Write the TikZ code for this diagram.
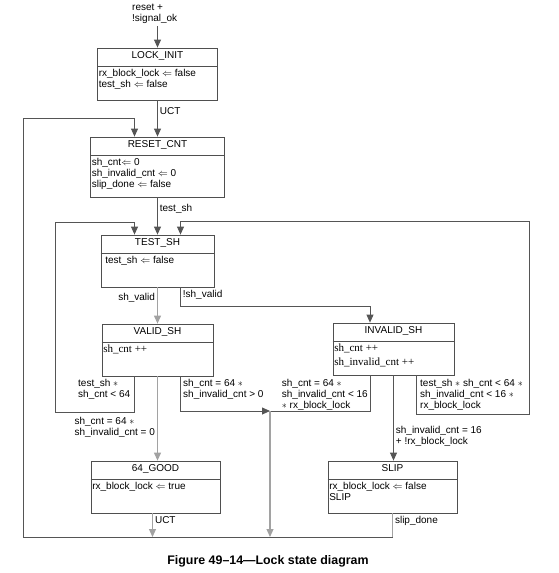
\documentclass[tikz,border=0pt]{standalone}
\usepackage{amsmath,amssymb}
\usepackage{fontspec}
\setmainfont{Liberation Sans}
\newfontfamily\timesfont{Liberation Serif}
\usetikzlibrary{arrows.meta}
\definecolor{boxgray}{HTML}{4F4F4F}
\definecolor{wiredark}{HTML}{555555}
\definecolor{wirelight}{HTML}{A2A2A2}

\begin{document}
\begin{tikzpicture}[x=1pt, y=-1pt, >={Triangle[length=8pt,width=7pt]},
	every node/.style={font=\fontsize{10}{11}\selectfont},
	state/.style={draw=boxgray, line width=0.8pt, minimum height=52pt, inner sep=0pt},
	head/.style={anchor=base, inner sep=0pt},
	body/.style={anchor=north west, align=left, inner sep=1.5pt},
	lbl/.style={align=left, inner sep=2pt, font=\fontsize{10}{11}\selectfont},
	link/.style={draw=wiredark, line width=0.8pt},
	faint/.style={draw=wirelight, line width=1.1pt}]
	\useasboundingbox (0,0) rectangle (559,573);
	\node[state, minimum width=120pt] (lockinit) at (157.5,74) {};
	\node[state, minimum width=134pt, minimum height=60pt] (resetcnt) at (157.5,167) {};
	\node[state, minimum width=113pt] (testsh) at (157.5,261) {};
	\node[state, minimum width=111pt] (validsh) at (157.5,350) {};
	\node[state, minimum width=121pt] (invalidsh) at (393.5,349) {};
	\node[state, minimum width=129pt] (good) at (155.5,487) {};
	\node[state, minimum width=129pt] (slip) at (392.5,487) {};
	\foreach \s in {lockinit,resetcnt,testsh,validsh,invalidsh,good,slip} {
		\draw[boxgray, line width=0.8pt] ([yshift=-19pt]\s.north west) -- ([yshift=-19pt]\s.north east);
	}
	\node[head] (lockinit-t) at ([yshift=-11pt]lockinit.north) {LOCK\_INIT};
	\node[head] (resetcnt-t) at ([yshift=-11pt]resetcnt.north) {RESET\_CNT};
	\node[head] (testsh-t) at ([yshift=-11pt]testsh.north) {TEST\_SH};
	\node[head] (validsh-t) at ([yshift=-11pt]validsh.north) {VALID\_SH};
	\node[head] (invalidsh-t) at ([yshift=-11pt]invalidsh.north) {INVALID\_SH};
	\node[head] (good-t) at ([yshift=-11pt]good.north) {64\_GOOD};
	\node[head] (slip-t) at ([yshift=-11pt]slip.north) {SLIP};
	\node[body] (lockinit-b) at ([yshift=-19.5pt]lockinit.north west) {rx\_block\_lock $\Leftarrow$ false\\test\_sh $\Leftarrow$ false};
	\node[body] (resetcnt-b) at ([yshift=-19.5pt]resetcnt.north west) {sh\_cnt$\Leftarrow$ 0\\sh\_invalid\_cnt $\Leftarrow$ 0\\slip\_done $\Leftarrow$ false};
	\node[body] (testsh-b) at ([xshift=3pt, yshift=-19.5pt]testsh.north west) {test\_sh $\Leftarrow$ false};
	\node[body, font=\timesfont\fontsize{11}{14}\selectfont] (validsh-b) at ([yshift=-20pt]validsh.north west) {sh\_cnt ++};
	\node[body, font=\timesfont\fontsize{11}{14}\selectfont] (invalidsh-b) at ([yshift=-20pt]invalidsh.north west) {sh\_cnt ++\\sh\_invalid\_cnt ++};
	\node[body] (good-b) at ([yshift=-19.5pt]good.north west) {rx\_block\_lock $\Leftarrow$ true};
	\node[body] (slip-b) at ([yshift=-19.5pt]slip.north west) {rx\_block\_lock $\Leftarrow$ false\\SLIP};

	\node[lbl, anchor=south west] (entry) at (130,26) {reset +\\!signal\_ok};
	\draw[link, ->] (entry.south -| lockinit.north) -- (lockinit.north);
	\draw[link, ->] (lockinit.south) -- (lockinit.south |- resetcnt.north) node[lbl, pos=.3, right] (uct-a) {UCT};
	\coordinate (busw) at (23,537);
	\coordinate (outerloop) at (23,118);
	\draw[link, ->] (busw) -- (outerloop) -| ([xshift=-23pt]resetcnt.north);
	\draw[link, ->] (resetcnt.south) -- (resetcnt.south |- testsh.north) node[lbl, pos=.3, right] (testsh-l) {test\_sh};
	\coordinate (leftloop) at (55,222);
	\draw[link, ->] ([xshift=-23pt]validsh.south) -- ++(0,36) -| (leftloop) -| ([xshift=-23pt]testsh.north);
	\node[lbl, anchor=north west] (leftloop-l) at (76,377) {test\_sh $*$\\sh\_cnt < 64};
	\coordinate (rightloop) at (529,221);
	\draw[link, ->] ([xshift=23pt]invalidsh.south) -- ++(0,39) -| (rightloop) -| ([xshift=23pt]testsh.north);
	\node[lbl, anchor=north west] (rightloop-l) at (418,377) {test\_sh $*$ sh\_cnt < 64 $*$\\sh\_invalid\_cnt < 16 $*$\\rx\_block\_lock};
	\draw[faint, ->] (testsh.south) -- (validsh.north) node[lbl, pos=.3, left] (valid-l) {sh\_valid};
	\draw[link, ->] ([xshift=23pt]testsh.south) -- ++(0,19) node[lbl, pos=.4, right] (invalid-l) {!sh\_valid} -| ([xshift=-23.5pt]invalidsh.north);
	\draw[faint, ->] (validsh.south) -- (validsh.south |- good.north) node[lbl, pos=.6, left] (good-l) {sh\_cnt = 64 $*$\\sh\_invalid\_cnt = 0};
	\coordinate (join) at (270,411);
	\draw[link, ->] ([xshift=23pt]validsh.south) |- (join);
	\node[lbl, anchor=north west] (join-a) at (181,377) {sh\_cnt = 64 $*$\\sh\_invalid\_cnt > 0};
	\draw[link] ([xshift=-23.5pt]invalidsh.south) |- (join);
	\node[lbl, anchor=north east] (join-b) at (370,377) {sh\_cnt = 64 $*$\\sh\_invalid\_cnt < 16\\$*$ rx\_block\_lock};
	\draw[faint, ->] (join) -- (join |- busw);
	\draw[link, ->] (invalidsh.south) -- (invalidsh.south |- slip.north) node[lbl, pos=.72, right] (slip-l) {sh\_invalid\_cnt = 16\\+ !rx\_block\_lock};
	\draw[faint, ->] ([xshift=-3pt]good.south) -- ([xshift=-3pt]good.south |- busw) node[lbl, pos=.3, right] (uct-b) {UCT};
	\draw[faint] (slip.south) -- (slip.south |- busw) node[lbl, pos=.3, right] (slipdone) {slip\_done};
	\draw[link] (slip.south |- busw) -- (busw);
	\node[anchor=base, font=\bfseries\fontsize{12.4}{14}\selectfont] (caption) at (268,564) {Figure 49--14---Lock state diagram};
\end{tikzpicture}
\end{document}
